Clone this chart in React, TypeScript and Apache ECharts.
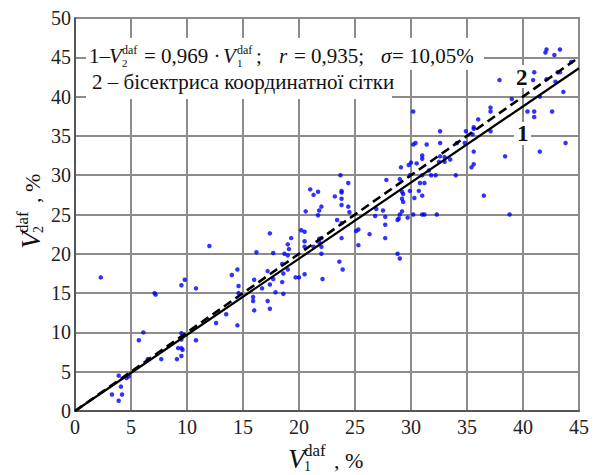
import React, { useEffect, useRef } from "react";
import * as echarts from "echarts";

// ---- data ----
const V1_DAF: number[] = [
  2.3, 9.8, 9.5, 10.8, 7.1, 7.2, 6.1, 5.7, 9.5, 9.5, 10.8, 6.5, 7.7, 9.2, 9.5, 9.6, 9.1, 9.5, 3.9, 4.8, 4.6, 4.1, 3.3, 4.2, 3.9,
  12.0, 14.0, 14.5, 14.6, 14.6, 13.5, 12.6, 14.5, 15.9, 15.9, 16.0, 16.0, 16.7, 17.2, 17.4, 17.2, 17.4, 17.7, 17.9, 18.5, 18.6, 18.6, 18.5, 19.0, 19.7, 20.0, 20.5, 16.2, 17.7, 17.4, 18.7, 19.0, 19.1, 19.0, 19.3, 20.2, 20.5, 20.5, 20.5, 20.6, 21.0,
  30.2, 30.2, 30.4, 31.4, 31.0, 31.0, 30.5, 30.0, 29.8, 29.1, 23.7, 24.4, 21.3, 21.7, 23.2, 23.8, 23.8, 23.8, 23.8, 24.4,
  24.5, 22.0, 21.8, 21.7, 23.4, 23.8, 23.8, 25.1, 25.3, 25.3, 26.3, 26.8, 26.9, 27.5, 27.7, 27.7, 27.7, 27.8, 29.0, 29.2,
  29.3, 29.2, 29.3, 29.2, 29.0, 28.9, 28.8, 29.7, 30.2, 31.0, 31.2, 29.9, 30.3, 30.7, 31.0, 30.8, 31.2, 29.9, 28.8, 29.0,
  23.6, 23.9, 22.1, 21.3, 21.8, 22.0, 21.8, 22.0, 22.0,
  42.0, 42.1, 42.8, 43.3, 44.3, 41.0, 43.1, 43.3, 40.9, 42.1, 42.9, 43.6, 37.9, 39.0, 41.5, 40.4, 41.0, 41.0, 42.6, 43.8,
  41.5, 38.4, 36.5, 38.8, 37.1, 37.1, 37.1, 36.0, 35.6, 35.6, 35.5, 34.9, 35.6, 35.6, 35.4, 34.8, 34.1, 32.6, 32.6, 32.6,
  33.0, 33.5, 33.0, 32.5, 34.0, 32.2, 31.8, 31.6, 31.0, 32.3,
];
const V2_DAF: number[] = [
  17.0, 16.7, 16.0, 15.6, 15.0, 14.8, 10.0, 9.0, 9.9, 9.1, 9.0, 6.6, 6.6, 8.0, 8.0, 7.8, 6.6, 7.0, 4.5, 4.4, 4.2, 3.1, 2.1, 2.1, 1.3,
  21.0, 17.3, 18.0, 15.9, 15.0, 12.3, 11.2, 10.9, 14.5, 14.0, 12.8, 16.7, 15.6, 17.8, 16.1, 14.0, 13.0, 16.8, 15.1, 16.4, 14.9, 17.5, 18.7, 18.0, 17.0, 17.0, 17.4, 20.2, 20.1, 22.6, 20.0, 19.8, 20.6, 21.2, 22.0, 23.0, 22.8, 21.6, 20.9, 25.4, 28.2,
  38.1, 33.9, 34.1, 33.9, 32.5, 32.1, 31.5, 31.6, 31.3, 31.0, 30.0, 29.0, 27.5, 27.9, 27.3, 28.0, 27.8, 27.0, 26.2, 26.0,
  25.3, 26.0, 25.5, 24.9, 24.3, 23.9, 22.0, 22.9, 23.1, 21.1, 22.5, 24.8, 25.7, 25.5, 24.7, 23.7, 22.0, 29.4, 29.5, 27.9,
  27.6, 27.0, 26.6, 25.4, 25.0, 24.5, 24.3, 24.6, 25.0, 25.0, 25.0, 28.0, 27.1, 28.0, 27.4, 29.0, 29.0, 30.0, 20.0, 19.4,
  19.0, 18.0, 16.8, 20.9, 21.9, 22.0, 21.5, 20.9, 20.0,
  45.6, 46.0, 45.3, 46.0, 44.4, 43.1, 43.1, 43.1, 42.1, 42.2, 41.9, 40.6, 42.1, 39.7, 40.0, 38.1, 38.1, 37.4, 38.1, 34.1,
  33.0, 32.4, 27.4, 25.0, 38.6, 38.1, 35.6, 37.1, 36.1, 35.9, 35.2, 35.6, 33.0, 31.4, 31.0, 34.1, 34.1, 35.6, 34.1, 32.4,
  32.3, 32.0, 31.7, 31.7, 30.0, 30.0, 30.0, 30.6, 30.0, 25.0,
];
const FIT_SLOPE = 0.969; // line 1: V2 = 0.969 * V1
const X_RANGE = [0, 45];
const Y_RANGE = [0, 50];
const TICK_STEP = 5;

const LEGEND_LINE_2 = "2 – бісектриса координатної сітки";

const SERIF = "Liberation Serif";
const INK = "#111";

let measureCtx: CanvasRenderingContext2D | null = null;
function fontOf(size: number, italic = false, bold = false) {
  return `${italic ? "italic " : ""}${bold ? "bold " : ""}${size}px '${SERIF}'`;
}
function textWidth(t: string, size: number, italic = false, bold = false) {
  if (!measureCtx) measureCtx = document.createElement("canvas").getContext("2d");
  measureCtx!.font = fontOf(size, italic, bold);
  return measureCtx!.measureText(t).width;
}

function txt(t: string, x: number, baseline: number, size: number, italic = false, bold = false, z = 20) {
  return {
    type: "text",
    x,
    y: baseline - 0.34 * size,
    z,
    silent: true,
    style: {
      text: t,
      font: fontOf(size, italic, bold),
      fill: INK,
      align: "left",
      verticalAlign: "middle",
    },
  };
}

type Piece =
  | { t: string; size: number; italic?: boolean; bold?: boolean; at?: number }
  | { sup: string; sub: string; supSize: number; subSize: number; rise: number; drop: number; at?: number };

function typeset(pieces: Piece[], x0: number, baseline: number) {
  const els: any[] = [];
  let x = x0;
  for (const p of pieces) {
    if (p.at !== undefined) x = x0 + p.at;
    if ("t" in p) {
      els.push(txt(p.t, x, baseline, p.size, p.italic, p.bold));
      x += textWidth(p.t, p.size, p.italic, p.bold);
    } else {
      els.push(txt(p.sup, x, baseline - p.rise, p.supSize));
      els.push(txt(p.sub, x, baseline + p.drop, p.subSize));
      x += Math.max(textWidth(p.sup, p.supSize), textWidth(p.sub, p.subSize));
    }
  }
  return els;
}

function axisNamePieces(sub: string): Piece[] {
  return [
    { t: "V", size: 28, italic: true, at: 0 },
    { sup: "daf", sub, supSize: 17, subSize: 14, rise: 12, drop: 3, at: 16 },
    { t: ", %", size: 22, at: 46 },
  ];
}

export default function App() {
  const ref = useRef<HTMLDivElement>(null);
  useEffect(() => {
    document.body.style.margin = "0";
    if (!ref.current) return;
    const chart = echarts.init(ref.current, null, { renderer: "svg" });

    const points = V1_DAF.map((x, i) => [x, V2_DAF[i]]);
    const bisector = X_RANGE.map((x) => [x, x]);
    const fitLine = X_RANGE.map((x) => [x, FIT_SLOPE * x]);

    const fs = 21;
    const legend1: Piece[] = [
      { t: "1–", size: fs, at: 0 },
      { t: "V", size: fs, italic: true, at: 20 },
      { sup: "daf", sub: "2", supSize: 12, subSize: 11, rise: 9, drop: 4, at: 33 },
      { t: "= 0,969 ·", size: fs, at: 55 },
      { t: "V", size: fs, italic: true, at: 134 },
      { sup: "daf", sub: "1", supSize: 12, subSize: 11, rise: 9, drop: 4, at: 148 },
      { t: ";", size: fs, at: 167 },
      { t: "r", size: fs, italic: true, at: 190 },
      { t: "= 0,935;", size: fs, at: 205 },
      { t: "σ", size: fs, italic: true, at: 292 },
      { t: "= 10,05%", size: fs, at: 303 },
    ];

    const graphic: any[] = [
      { type: "rect", z: 10, silent: true, shape: { x: 86, y: 38, width: 398, height: 32 }, style: { fill: "#fff" } },
      { type: "rect", z: 10, silent: true, shape: { x: 86, y: 68, width: 306, height: 31 }, style: { fill: "#fff" } },
      ...typeset(legend1, 89, 63),
      txt(LEGEND_LINE_2, 92, 89, fs),
      { type: "rect", z: 10, silent: true, shape: { x: 514, y: 65, width: 17, height: 23 }, style: { fill: "#fff" } },
      { type: "rect", z: 10, silent: true, shape: { x: 514, y: 122, width: 17, height: 23 }, style: { fill: "#fff" } },
      txt("2", 516, 85, 23, false, true),
      txt("1", 517, 141, 23, false, true),
      ...typeset(axisNamePieces("1"), 288, 468),
      {
        type: "group",
        x: 40,
        y: 211,
        rotation: Math.PI / 2,
        children: typeset(axisNamePieces("2"), -38, 0),
      },
    ];

    const labelStyle = { color: "#222", fontFamily: SERIF, fontSize: 20 };

    chart.setOption({
      animation: false,
      backgroundColor: "#fff",
      textStyle: { fontFamily: SERIF },
      grid: {
        left: 75,
        right: 21,
        top: 18,
        bottom: 64,
        containLabel: false,
        outerBoundsMode: "none",
        show: true,
        borderColor: "#444",
        borderWidth: 1.5,
        backgroundColor: "transparent",
      },
      xAxis: {
        type: "value",
        min: X_RANGE[0],
        max: X_RANGE[1],
        interval: TICK_STEP,
        axisLine: { show: true, lineStyle: { color: "#444", width: 1.5 } },
        axisTick: { show: false },
        splitLine: { show: true, lineStyle: { color: "#8c8c8c", width: 2 } },
        axisLabel: { ...labelStyle, margin: 6 },
      },
      yAxis: {
        type: "value",
        min: Y_RANGE[0],
        max: Y_RANGE[1],
        interval: TICK_STEP,
        axisLine: { show: true, lineStyle: { color: "#444", width: 1.5 } },
        axisTick: { show: false },
        splitLine: { show: true, lineStyle: { color: "#8c8c8c", width: 2 } },
        axisLabel: { ...labelStyle, margin: 4 },
      },
      series: [
        {
          type: "scatter",
          data: points,
          symbol: "circle",
          symbolSize: 4.5,
          itemStyle: { color: "#0000ff" },
          z: 3,
          silent: true,
        },
        {
          type: "line",
          data: bisector,
          showSymbol: false,
          lineStyle: { color: "#000", width: 2.6, type: [9, 5] },
          z: 4,
          silent: true,
        },
        {
          type: "line",
          data: fitLine,
          showSymbol: false,
          lineStyle: { color: "#000", width: 2.2, type: "solid" },
          z: 4,
          silent: true,
        },
      ],
      graphic,
    });
    return () => chart.dispose();
  }, []);
  return <div ref={ref} style={{ width: 600, height: 475, fontFamily: SERIF }} />;
}
